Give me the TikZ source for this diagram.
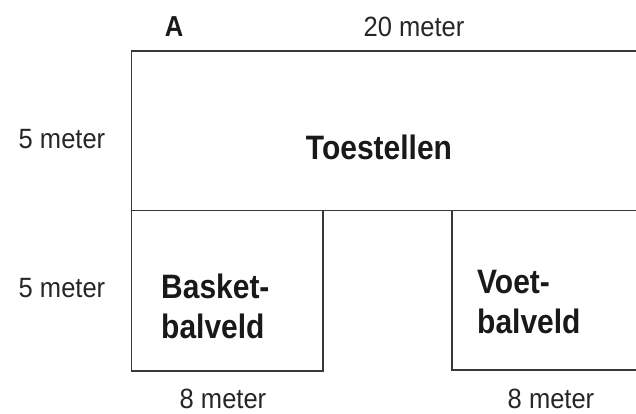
\documentclass[tikz,border=0pt]{standalone}
\usepackage{fontspec}
\setmainfont{Liberation Sans}
\newfontfamily\condreg[FakeStretch=0.915]{Liberation Sans}
\newfontfamily\condbold[FakeStretch=0.885]{Liberation Sans Bold}
\begin{document}
\begin{tikzpicture}[x=1bp,y=-1bp,
  wall/.style={draw=black!78,line width=1.3bp},
  lab/.style={font=\condreg\fontsize{28}{30}\selectfont,inner sep=0pt,text=black!85,anchor=base},
  big/.style={font=\condbold\fontsize{34}{40}\selectfont,inner sep=0pt,text=black!90,anchor=base west}]
\useasboundingbox (0,0) rectangle (636,413);
\coordinate (tl) at (131.5,51);
\coordinate (tr) at (636,51);
\coordinate (ml) at (131.5,210.5);
\coordinate (mr) at (636,210.5);
\coordinate (bl) at (131.5,371);
\coordinate (br) at (323,371);
\coordinate (bm) at (323,210.5);
\coordinate (vm) at (452,210.5);
\coordinate (vb) at (452,370);
\coordinate (vr) at (636,370);
\draw[wall] (tr) -- (tl) -- (bl) -- (br) -- (bm);
\draw[wall] (ml) -- (mr);
\draw[wall] (vm) -- (vb) -- (vr);
\node[big,anchor=base,font=\condbold\fontsize{29}{30}\selectfont] (a) at (174,36) {A};
\node[lab] (m20) at (414,36) {20 meter};
\node[lab] (m5a) at (62,148) {5 meter};
\node[lab] (m5b) at (62,297) {5 meter};
\node[lab] (m8a) at (223,408) {8 meter};
\node[lab] (m8b) at (551,408) {8 meter};
\node[big,anchor=base] (t) at (379,159) {Toestellen};
\node[big] (b1) at (161,298) {Basket-};
\node[big] (b2) at (161,338) {balveld};
\node[big] (v1) at (477,293) {Voet-};
\node[big] (v2) at (477,333) {balveld};
\end{tikzpicture}
\end{document}
